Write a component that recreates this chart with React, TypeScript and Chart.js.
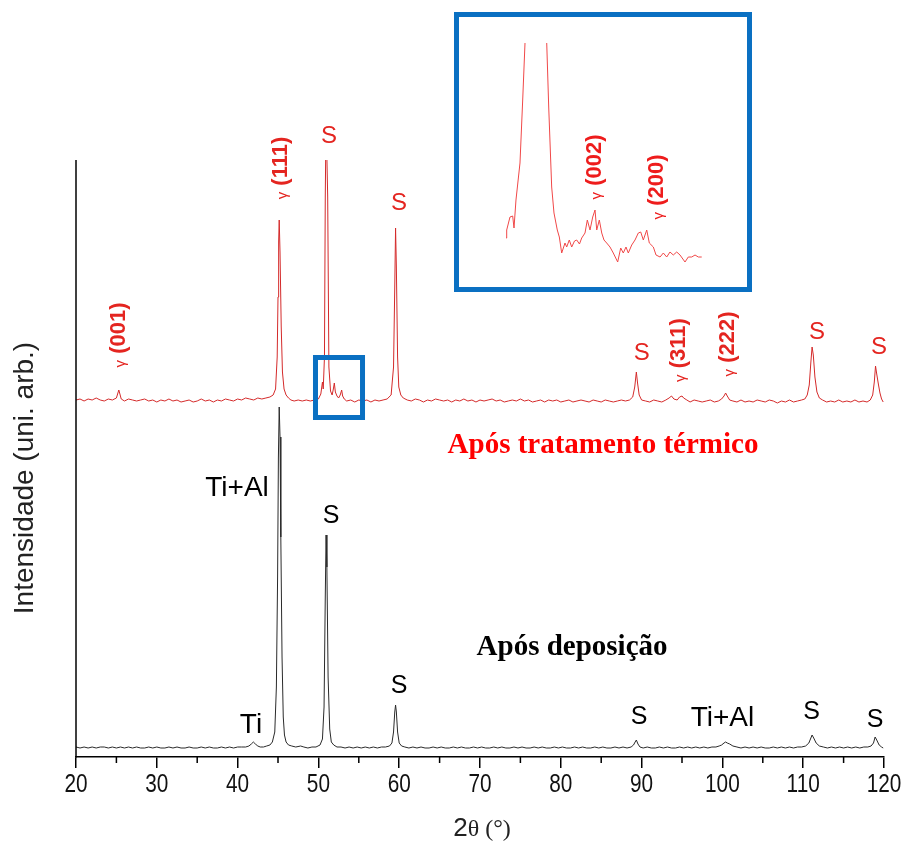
import React, { useEffect, useRef } from 'react';
import { Chart, registerables } from 'chart.js';

Chart.register(...registerables);

// ---------------- data ----------------
const xMajorTicks = [20, 30, 40, 50, 60, 70, 80, 90, 100, 110, 120];
const xMinorTicks = [25, 35, 45, 55, 65, 75, 85, 95, 105, 115];

// 2θ (°), intensity (arb. units) — as deposited (black)
const asDeposited: [number, number][] = [
  [20.0,10],[20.5,9],[21.0,10],[21.5,9],[22.0,10],[22.5,9],[23.0,10],[23.5,10],[24.0,9],[24.5,10],[25.0,9],[25.5,10],[26.0,9],[26.5,10],[27.0,9],[27.5,10],[28.0,9],[28.5,9],[29.0,10],[29.5,9],
  [30.0,10],[30.5,9],[31.0,9],[31.5,10],[32.0,9],[32.5,10],[33.0,9],[33.5,9],[34.0,10],[34.5,9],[35.0,9],[35.5,10],[36.0,9],[36.5,10],[37.0,9],[37.5,9],[38.0,10],[38.5,9],[39.0,10],[39.5,9],
  [40.0,10],[40.5,10],[41.0,10],[41.4,11],[41.7,13],[41.95,15],[42.2,13],[42.5,11],[42.8,10],[43.2,10],[43.6,11],[44.0,12],[44.3,15],[44.6,25],[44.8,70],[44.95,180],[45.05,300],[45.15,350],[45.25,320],[45.35,220],[45.5,100],[45.65,40],[45.8,22],[46.0,15],[46.3,12],[46.7,11],[47.2,10],[47.8,11],[48.2,10],[48.7,9],[49.2,10],[49.7,10],
  [50.2,12],[50.5,18],[50.7,50],[50.85,160],[50.95,222],[51.05,190],[51.2,80],[51.4,28],[51.6,15],[51.9,12],[52.3,10],[52.8,10],[53.3,9],[53.8,10],[54.3,9],[54.8,10],[55.3,9],[55.8,10],[56.3,9],[56.8,10],[57.3,9],[57.8,10],[58.3,10],[58.8,11],[59.1,14],[59.3,25],[59.45,45],[59.55,52],[59.65,45],[59.8,25],
  [60.0,14],[60.3,11],[60.7,10],[61.2,9],[61.7,10],[62.2,9],[62.7,10],[63.2,9],[63.7,9],[64.2,10],[64.7,9],[65.2,10],[65.7,9],[66.2,9],[66.7,10],[67.2,9],[67.7,10],[68.2,9],[68.7,9],[69.2,10],[69.7,9],
  [70.2,10],[70.7,9],[71.2,9],[71.7,10],[72.2,9],[72.7,10],[73.2,9],[73.7,9],[74.2,10],[74.7,9],[75.2,10],[75.7,9],[76.2,9],[76.7,10],[77.2,9],[77.7,10],[78.2,9],[78.7,9],[79.2,10],[79.7,9],
  [80.2,10],[80.7,9],[81.2,9],[81.7,10],[82.2,9],[82.7,10],[83.2,9],[83.7,9],[84.2,10],[84.7,9],[85.2,10],[85.7,9],[86.2,9],[86.7,10],[87.2,9],[87.7,10],[88.2,9],[88.7,10],[89.0,12],[89.2,15],[89.35,17],[89.55,13],[89.8,10],
  [90.2,9],[90.7,10],[91.2,9],[91.7,9],[92.2,10],[92.7,9],[93.2,10],[93.7,9],[94.2,9],[94.7,10],[95.2,9],[95.7,10],[96.2,9],[96.7,10],[97.2,9],[97.7,10],[98.2,9],[98.7,10],[99.2,10],[99.6,11],[99.9,12],
  [100.2,14],[100.4,15],[100.6,14],[100.9,13],[101.3,11],[101.8,10],[102.3,9],[102.8,10],[103.3,9],[103.8,10],[104.3,9],[104.8,10],[105.3,9],[105.8,9],[106.3,10],[106.8,9],[107.3,10],[107.8,9],[108.3,10],[108.8,9],[109.3,10],[109.8,10],
  [110.3,11],[110.7,14],[110.95,19],[111.1,22],[111.3,19],[111.6,14],[112.0,11],[112.5,10],[113.0,9],[113.5,10],[114.0,9],[114.5,10],[115.0,9],[115.5,10],[116.0,9],[116.5,10],[117.0,9],[117.5,10],[118.0,10],[118.4,11],[118.7,14],[118.9,20],[119.1,17],[119.4,12],[119.7,10],[119.9,9],
];

// 2θ (°), intensity (arb. units, offset) — after heat treatment (red)
const afterTreatment: [number, number][] = [
  [20.0,357],[20.5,358],[21.0,356],[21.5,358],[22.0,357],[22.5,359],[23.0,357],[23.5,356],[24.0,358],[24.5,357],[25.0,359],[25.3,367],[25.6,358],[26.0,356],[26.5,358],[27.0,357],[27.5,356],[28.0,357],[28.5,358],[29.0,356],[29.5,357],
  [30.0,355],[30.5,357],[31.0,356],[31.5,358],[32.0,356],[32.5,357],[33.0,355],[33.5,356],[34.0,357],[34.5,355],[35.0,356],[35.5,358],[36.0,356],[36.5,357],[37.0,355],[37.5,357],[38.0,356],[38.5,358],[39.0,357],[39.5,356],
  [40.0,358],[40.5,357],[41.0,359],[41.5,358],[42.0,357],[42.5,359],[43.0,358],[43.5,359],[44.0,360],[44.4,362],[44.7,368],[44.9,400],[45.0,460],[45.08,515],[45.15,537],[45.25,505],[45.4,430],[45.55,385],[45.75,368],[46.0,362],[46.3,359],[46.6,357],[47.0,356],[47.5,357],[48.0,356],[48.5,357],[49.0,356],[49.5,357],
  [50.0,358],[50.3,363],[50.5,375],[50.6,368],[50.75,400],[50.85,560],[50.95,640],[51.05,640],[51.15,560],[51.3,390],[51.5,366],[51.7,362],[51.85,368],[51.97,374],[52.1,365],[52.3,361],[52.5,359],[52.7,362],[52.88,367],[53.0,361],[53.2,358],[53.5,356],[54.0,357],[54.5,355],[55.0,357],[55.5,356],[56.0,357],[56.5,355],[57.0,357],[57.5,356],[58.0,357],[58.5,358],[59.0,362],[59.3,390],[59.45,470],[59.55,529],[59.65,490],[59.8,400],[59.95,370],
  [60.2,362],[60.5,359],[61.0,357],[61.5,356],[62.0,358],[62.5,357],[63.0,355],[63.5,357],[64.0,356],[64.5,358],[65.0,357],[65.5,356],[66.0,357],[66.5,355],[67.0,357],[67.5,356],[68.0,358],[68.5,356],[69.0,357],[69.5,355],
  [70.0,357],[70.5,356],[71.0,357],[71.5,358],[72.0,356],[72.5,357],[73.0,355],[73.5,356],[74.0,357],[74.5,356],[75.0,358],[75.5,356],[76.0,357],[76.5,355],[77.0,356],[77.5,357],[78.0,355],[78.5,357],[79.0,356],[79.5,357],
  [80.0,355],[80.5,356],[81.0,357],[81.5,355],[82.0,356],[82.5,357],[83.0,356],[83.5,355],[84.0,357],[84.5,356],[85.0,355],[85.5,357],[86.0,356],[86.5,355],[87.0,356],[87.5,357],[88.0,356],[88.5,357],[88.9,360],[89.15,370],[89.35,385],[89.5,374],[89.7,362],
  [90.0,357],[90.5,356],[91.0,355],[91.5,357],[92.0,356],[92.5,355],[93.0,357],[93.4,359],[93.7,361],[94.0,358],[94.4,357],[94.7,360],[95.0,361],[95.2,359],[95.6,357],[96.0,355],[96.5,357],[97.0,356],[97.5,355],[98.0,356],[98.5,357],[99.0,355],[99.5,356],[99.9,358],
  [100.2,361],[100.4,364],[100.6,361],[100.9,357],[101.3,356],[101.8,355],[102.3,357],[102.8,355],[103.3,356],[103.8,355],[104.3,357],[104.8,356],[105.3,355],[105.8,357],[106.3,356],[106.8,354],[107.3,356],[107.8,355],[108.3,357],[108.8,355],[109.3,356],[109.8,357],
  [110.2,358],[110.5,362],[110.75,372],[110.95,395],[111.1,410],[111.25,402],[111.45,380],[111.7,365],[112.0,359],[112.4,357],[112.9,355],[113.4,356],[113.9,355],[114.4,357],[114.9,355],[115.4,356],[115.9,355],[116.4,357],[116.9,355],[117.4,356],[117.9,355],
  [118.3,357],[118.6,362],[118.8,375],[118.95,391],[119.1,383],[119.3,373],[119.5,364],[119.7,358],[119.9,355],
];

// zoomed detail of the heat-treated pattern (inset)
const insetDetail: [number, number][] = [
  [50.455,47],[50.467,55],[50.527,68],[50.576,69],[50.6,57],[50.636,85],[50.709,122],[50.758,185],[50.8,242],[50.85,300],[51.0,330],[51.15,300],
  [51.195,242],[51.231,178],[51.285,98],[51.327,72],[51.387,55],[51.424,48],[51.467,32],[51.527,42],[51.558,38],[51.605,45],[51.649,38],[51.7,44],[51.74,45],[51.79,41],[51.831,47],[51.891,52],[51.933,65],[51.982,55],
  [52.031,68],[52.073,75],[52.104,55],[52.151,65],[52.195,52],[52.236,45],[52.285,42],[52.345,38],[52.405,32],[52.485,23],[52.54,37],[52.587,32],[52.636,38],[52.678,32],[52.74,40],[52.8,45],[52.86,52],[52.904,53],[52.951,45],
  [53.013,55],[53.06,42],[53.133,38],[53.182,30],[53.255,28],[53.315,32],[53.376,28],[53.436,33],[53.496,30],[53.558,33],[53.618,30],[53.709,23],[53.769,28],[53.831,28],[53.891,30],[53.951,28],[54.013,28],
];

// peak assignments: [text, 2θ anchor, intensity anchor]
const redGammaLabels: [string, number, number][] = [
  ['(001)', 25.32, 422], ['(111)', 45.37, 589], ['(311)', 94.63, 407], ['(222)', 100.66, 413],
];
const redSLabels: [string, number, number][] = [
  ['S', 51.31, 621], ['S', 59.98, 554], ['S', 90.01, 404], ['S', 111.7, 425], ['S', 119.38, 410],
];
const blackLabels: [string, number, number][] = [
  ['Ti+Al', 39.93, 269], ['S', 51.56, 241], ['Ti', 41.66, 32], ['S', 59.98, 71],
  ['S', 89.68, 40], ['Ti+Al', 100.01, 39], ['S', 111.05, 45], ['S', 118.89, 37],
];
const captions: [string, number, number, string][] = [
  ['Após tratamento térmico', 85.22, 311, '#ff0000'],
  ['Após deposição', 81.39, 109, '#000000'],
];
const insetGammaLabels: [string, number, number][] = [
  ['(002)', 52.07, 118], ['(200)', 53.19, 98],
];
// region shown in the inset: [2θ min, 2θ max, low, high]
const zoomWindow = [49.64, 55.46, 339.5, 399.5];

// ---------------- helpers ----------------
const SANS = '"Liberation Sans", Arial, sans-serif';
const SERIF = '"Liberation Serif", "Times New Roman", serif';
const RED_TRACE = '#d42a2a';
const RED_TEXT = '#e42520';
const BLUE = '#0a70c2';

function drawGamma(ctx: CanvasRenderingContext2D, px: number, py: number, hkl: string, color: string) {
  ctx.save();
  ctx.translate(px, py);
  ctx.rotate(-Math.PI / 2);
  const gFont = `15px ${SANS}`;
  const tFont = `bold 22px ${SANS}`;
  ctx.font = gFont;
  const gw = ctx.measureText('γ').width;
  ctx.font = tFont;
  const tw = ctx.measureText(' ' + hkl).width;
  const start = -(gw + tw) / 2;
  ctx.fillStyle = color;
  ctx.textAlign = 'left';
  ctx.textBaseline = 'middle';
  ctx.font = gFont;
  ctx.fillText('γ', start, 2);
  ctx.font = tFont;
  ctx.fillText(' ' + hkl, start + gw, 0);
  ctx.restore();
}

function drawCentered(ctx: CanvasRenderingContext2D, text: string, px: number, py: number, font: string, color: string, sx = 1) {
  ctx.save();
  ctx.translate(px, py);
  ctx.scale(sx, 1);
  ctx.font = font;
  ctx.fillStyle = color;
  ctx.textAlign = 'center';
  ctx.textBaseline = 'middle';
  ctx.fillText(text, 0, 0);
  ctx.restore();
}

const mainDecor = {
  id: 'mainDecor',
  afterDraw(chart: any) {
    const { ctx, chartArea, scales } = chart;
    const x = scales.x;
    const y = scales.y;
    ctx.save();
    // left axis line
    ctx.strokeStyle = '#000';
    ctx.lineWidth = 1.5;
    ctx.beginPath();
    ctx.moveTo(chartArea.left, chartArea.top);
    ctx.lineTo(chartArea.left, chartArea.bottom + 0.75);
    ctx.stroke();
    // minor ticks
    ctx.beginPath();
    xMinorTicks.forEach((v) => {
      const px = x.getPixelForValue(v);
      ctx.moveTo(px, chartArea.bottom);
      ctx.lineTo(px, chartArea.bottom + 6);
    });
    ctx.stroke();
    // zoom window marker
    ctx.strokeStyle = BLUE;
    ctx.lineWidth = 5;
    const x0 = x.getPixelForValue(zoomWindow[0]);
    const x1 = x.getPixelForValue(zoomWindow[1]);
    const y0 = y.getPixelForValue(zoomWindow[3]);
    const y1 = y.getPixelForValue(zoomWindow[2]);
    ctx.strokeRect(x0, y0, x1 - x0, y1 - y0);
    ctx.restore();

    // tick labels (condensed sans)
    xMajorTicks.forEach((v) =>
      drawCentered(ctx, String(v), x.getPixelForValue(v), chartArea.bottom + 28, `26px ${SANS}`, '#111', 0.8));

    redGammaLabels.forEach(([t, th, v]) => drawGamma(ctx, x.getPixelForValue(th), y.getPixelForValue(v), t, RED_TEXT));
    redSLabels.forEach(([t, th, v]) => drawCentered(ctx, t, x.getPixelForValue(th), y.getPixelForValue(v), `24px ${SANS}`, RED_TEXT));
    blackLabels.forEach(([t, th, v]) => drawCentered(ctx, t, x.getPixelForValue(th), y.getPixelForValue(v), `${t === 'S' ? 25 : 28}px ${SANS}`, '#000'));
    captions.forEach(([t, th, v, c]) => drawCentered(ctx, t, x.getPixelForValue(th), y.getPixelForValue(v), `bold 29px ${SERIF}`, c));

    // axis titles
    ctx.save();
    ctx.fillStyle = '#222';
    ctx.textBaseline = 'middle';
    ctx.textAlign = 'left';
    ctx.font = `26px ${SANS}`;
    const w2 = ctx.measureText('2').width;
    ctx.font = `24px ${SERIF}`;
    const wt = ctx.measureText('θ (°)').width;
    const cx = (x.left + x.right) / 2 + 2;
    const sx = cx - (w2 + wt) / 2;
    ctx.font = `26px ${SANS}`;
    ctx.fillText('2', sx, 829);
    ctx.font = `24px ${SERIF}`;
    ctx.fillText('θ (°)', sx + w2, 830);
    ctx.restore();

    ctx.save();
    ctx.translate(25, 478);
    ctx.rotate(-Math.PI / 2);
    drawCentered(ctx, 'Intensidade (uni. arb.)', 0, 0, `28px ${SANS}`, '#222');
    ctx.restore();
  },
};

const insetDecor = {
  id: 'insetDecor',
  afterDraw(chart: any) {
    const { ctx, scales } = chart;
    insetGammaLabels.forEach(([t, th, v]) =>
      drawGamma(ctx, scales.x.getPixelForValue(th), scales.y.getPixelForValue(v), t, '#ee1c1c'));
  },
};

function MainChart() {
  const ref = useRef<HTMLCanvasElement | null>(null);
  useEffect(() => {
    if (!ref.current) return;
    const chart = new Chart(ref.current, {
      type: 'line',
      data: {
        datasets: [
          {
            label: 'Após deposição',
            data: asDeposited.map(([a, b]) => ({ x: a, y: b })),
            borderColor: '#2a2a2a',
            borderWidth: 1,
            pointRadius: 0,
            tension: 0,
          },
          {
            label: 'Após tratamento térmico',
            data: afterTreatment.map(([a, b]) => ({ x: a, y: b })),
            borderColor: RED_TRACE,
            borderWidth: 1,
            pointRadius: 0,
            tension: 0,
          },
        ],
      },
      options: {
        responsive: false,
        animation: false,
        devicePixelRatio: 1,
        layout: { padding: { left: 76, right: 18, top: 160, bottom: 0 } },
        plugins: { legend: { display: false }, tooltip: { enabled: false } },
        scales: {
          x: {
            type: 'linear',
            min: 20,
            max: 120,
            afterBuildTicks: (s: any) => {
              s.ticks = xMajorTicks.map((v) => ({ value: v }));
            },
            afterFit: (s: any) => {
              s.height = 88;
            },
            ticks: { display: false, autoSkip: false },
            grid: { drawOnChartArea: false, drawTicks: true, tickLength: 11, color: '#000', lineWidth: 1.5 },
            border: { display: true, color: '#000', width: 1.5 },
          },
          y: { display: false, min: 0, max: 597 },
        },
      },
      plugins: [mainDecor],
    } as any);
    return () => chart.destroy();
  }, []);
  return <canvas ref={ref} width={902} height={845} style={{ display: 'block' }} />;
}

function InsetChart() {
  const ref = useRef<HTMLCanvasElement | null>(null);
  useEffect(() => {
    if (!ref.current) return;
    const chart = new Chart(ref.current, {
      type: 'line',
      data: {
        datasets: [
          {
            label: 'detalhe',
            data: insetDetail.map(([a, b]) => ({ x: a, y: b })),
            borderColor: '#f04848',
            borderWidth: 1,
            pointRadius: 0,
            tension: 0,
          },
        ],
      },
      options: {
        responsive: false,
        animation: false,
        devicePixelRatio: 1,
        layout: { padding: { left: 0, right: 0, top: 26, bottom: 0 } },
        plugins: { legend: { display: false }, tooltip: { enabled: false } },
        scales: {
          x: { type: 'linear', display: false, min: 49.6, max: 54.836 },
          y: { display: false, min: -2, max: 242 },
        },
      },
      plugins: [insetDecor],
    } as any);
    return () => chart.destroy();
  }, []);
  return <canvas ref={ref} width={288} height={270} style={{ display: 'block' }} />;
}

export default function App() {
  return (
    <div style={{ position: 'absolute', left: 0, top: 0, width: 902, height: 845, background: '#fff' }}>
      <MainChart />
      <div
        style={{
          position: 'absolute',
          left: 454,
          top: 12,
          width: 298,
          height: 280,
          boxSizing: 'border-box',
          border: `5px solid ${BLUE}`,
          background: '#fff',
        }}
      >
        <InsetChart />
      </div>
    </div>
  );
}
